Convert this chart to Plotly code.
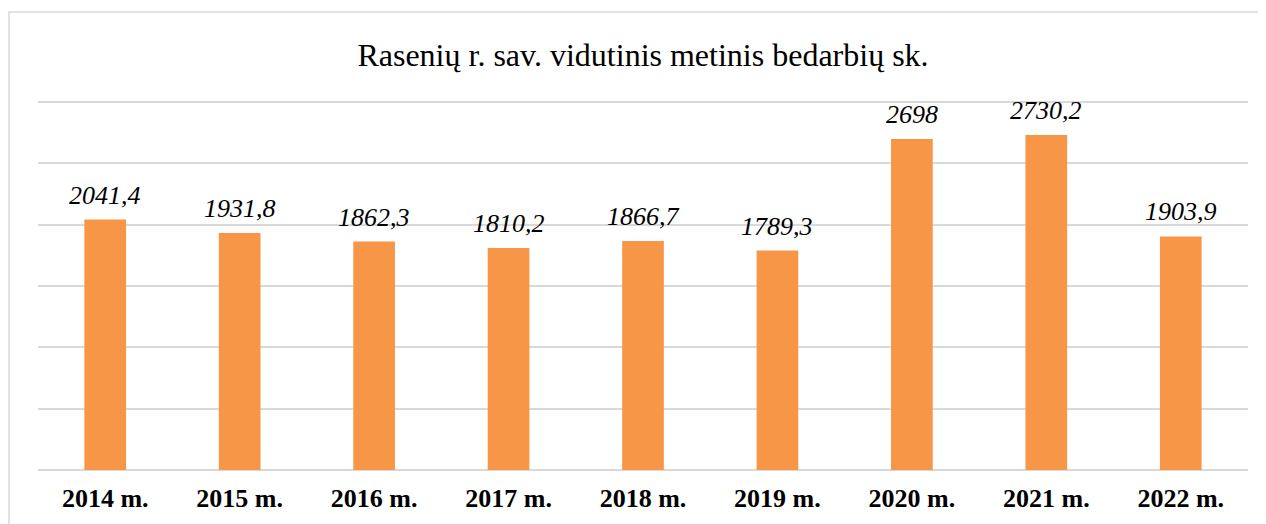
import plotly.graph_objects as go

categories = ["2014 m.", "2015 m.", "2016 m.", "2017 m.", "2018 m.", "2019 m.", "2020 m.", "2021 m.", "2022 m."]
values = [2041.4, 1931.8, 1862.3, 1810.2, 1866.7, 1789.3, 2698, 2730.2, 1903.9]
labels = [("%g" % v).replace(".", ",") for v in values]
grid_vals = [500, 1000, 1500, 2000, 2500, 3000]

# page body has an 8px margin, so the figure is drawn 8px smaller
W, H = 1258, 516
ml, mr, mt, mb = 30, 18, 92, 54
pw, ph = W - ml - mr, H - mt - mb
ymax = 3000 * ph / (ph - 2)  # leave 2px above the 3000 gridline so it is drawn

fig = go.Figure(go.Bar(
    x=categories, y=values,
    marker=dict(color="#F79646", line=dict(width=0)),
    hoverinfo="x+y",
))

annotations = [
    dict(x=c, y=v, text=t, showarrow=False, xref="x", yref="y",
         xanchor="center", yanchor="bottom", yshift=8,
         font=dict(family="Liberation Serif", size=26, color="#000000", style="italic"))
    for c, v, t in zip(categories, values, labels)
]

fig.update_layout(
    width=W, height=H,
    margin=dict(l=ml, r=mr, t=mt, b=mb),
    paper_bgcolor="white", plot_bgcolor="white",
    bargap=0.69,
    showlegend=False,
    title=dict(text="Rasenių r. sav. vidutinis metinis bedarbių sk.", x=(643 - 8) / W, xanchor="center",
               y=1 - 47 / H, yanchor="middle",
               font=dict(family="Liberation Serif", size=32, color="#000000")),
    xaxis=dict(tickfont=dict(family="Liberation Serif", size=26, color="#000000", weight="bold"),
               showline=False, ticks="", showgrid=False, ticklabelstandoff=10),
    yaxis=dict(range=[0, ymax], tickvals=grid_vals,
               showticklabels=False, showgrid=True,
               gridcolor="#D9D9D9", gridwidth=2, zeroline=True, zerolinecolor="#D9D9D9",
               zerolinewidth=2, showline=False),
    annotations=annotations,
    shapes=[dict(type="rect", xref="paper", yref="paper",
                 x0=(1 - ml) / pw, x1=(W + 20 - ml) / pw,
                 y0=(H - mb - (H + 20)) / ph, y1=(H - mb - 4) / ph,
                 line=dict(color="#D9D9D9", width=1.5), fillcolor="rgba(0,0,0,0)", layer="below")],
)

fig.write_html("out.html")
